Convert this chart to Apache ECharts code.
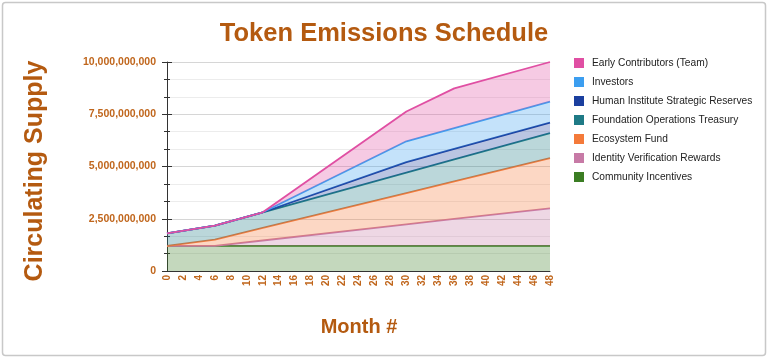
<!DOCTYPE html>
<html>
<head>
<meta charset="utf-8">
<script src="https://cdn.jsdelivr.net/npm/echarts@6/dist/echarts.min.js"></script>
<style>
html,body{margin:0;padding:0;background:#fff;}
#chart{width:768px;height:359px;}
</style>
</head>
<body>
<div id="chart"></div>
<script>
// Data (tokens), read at the schedule's vertices
var months = [0, 6, 12, 30, 36, 48];
var communityIncentives   = [1200000000, 1200000000, 1200000000, 1200000000, 1200000000, 1200000000];
var identityVerification  = [0, 0, 260000000, 1030000000, 1290000000, 1800000000];
var ecosystemFund         = [0, 300000000, 600000000, 1500000000, 1800000000, 2400000000];
var foundationTreasury    = [600000000, 675000000, 750000000, 975000000, 1050000000, 1200000000];
var humanInstitute        = [0, 0, 0, 500000000, 500000000, 500000000];
var investors             = [0, 0, 0, 1000000000, 1000000000, 1000000000];
var earlyContributors     = [0, 0, 0, 1425000000, 1900000000, 1900000000];

var seriesNames = [
  'Community Incentives',
  'Identity Verification Rewards',
  'Ecosystem Fund',
  'Foundation Operations Treasury',
  'Human Institute Strategic Reserves',
  'Investors',
  'Early Contributors (Team)'
];
var seriesValues = [communityIncentives, identityVerification, ecosystemFund, foundationTreasury, humanInstitute, investors, earlyContributors];
var seriesColors = ['#3b7d23', '#c77aa6', '#f47a3a', '#1f7a86', '#1b3f9f', '#3c9ef0', '#e04fa3'];
var legendOrder = seriesNames.slice().reverse();

var FONT = 'Liberation Sans, Arial, sans-serif';
var BROWN = '#b45a10';
var LABEL = '#c0661c';

// [value, month] so that the stacked dimension is the value (y) dimension
function pairs(vals) {
  return months.map(function (m, i) { return [vals[i], m]; });
}

var series = seriesNames.map(function (name, i) {
  return {
    name: name,
    type: 'line',
    stack: 'total',
    data: pairs(seriesValues[i]),
    encode: { x: 1, y: 0 },
    symbol: 'none',
    color: seriesColors[i],
    lineStyle: { width: 1.8, color: seriesColors[i] },
    areaStyle: { color: seriesColors[i], opacity: 0.3 },
    z: 2 + i
  };
});

var chart = echarts.init(document.getElementById('chart'), null, { renderer: 'canvas' });
chart.setOption({
  animation: false,
  backgroundColor: '#fff',
  title: {
    text: 'Token Emissions Schedule',
    left: 'center',
    top: 16,
    textStyle: { fontFamily: FONT, fontSize: 25.5, fontWeight: 'bold', color: BROWN }
  },
  grid: { left: 167, right: 218, top: 62, bottom: 88, containLabel: false },
  legend: {
    orient: 'vertical',
    left: 569,
    top: 53,
    data: legendOrder,
    icon: 'rect',
    itemWidth: 10,
    itemHeight: 10,
    itemGap: 9,
    textStyle: { fontFamily: FONT, fontSize: 10.2, color: '#222', padding: [0, 0, 0, 3], lineHeight: 10 }
  },
  xAxis: {
    type: 'value',
    min: 0,
    max: 48,
    interval: 2,
    axisLine: { show: true, lineStyle: { color: '#333', width: 1 } },
    axisTick: { show: false },
    splitLine: { show: false },
    axisLabel: {
      rotate: 90,
      margin: 4,
      fontFamily: FONT,
      fontSize: 10,
      fontWeight: 'bold',
      color: LABEL,
      showMinLabel: true,
      showMaxLabel: true
    }
  },
  yAxis: [{
    type: 'value',
    position: 'left',
    min: 0,
    max: 10000000000,
    interval: 2500000000,
    axisLine: { show: true, lineStyle: { color: '#333', width: 1 } },
    axisTick: { show: true, length: 5, inside: false, lineStyle: { color: '#333' } },
    minorTick: { show: true, splitNumber: 3, length: 3, lineStyle: { color: '#333' } },
    splitLine: { show: true, lineStyle: { color: '#d6d6d6', width: 1 } },
    minorSplitLine: { show: true, lineStyle: { color: '#ececec', width: 1 } },
    axisLabel: {
      margin: 11,
      fontFamily: FONT,
      fontSize: 10.5,
      fontWeight: 'bold',
      color: LABEL,
      formatter: function (v) { return Number(v).toLocaleString('en-US'); }
    }
  }, {
    type: 'value',
    position: 'right',
    offset: -383,
    min: 0,
    max: 10000000000,
    interval: 2500000000,
    axisLine: { show: false },
    axisTick: { show: true, length: 5, inside: false, lineStyle: { color: '#333' } },
    minorTick: { show: true, splitNumber: 3, length: 3, lineStyle: { color: '#333' } },
    splitLine: { show: false },
    minorSplitLine: { show: false },
    axisLabel: { show: false }
  }],
  graphic: [
    {
      type: 'rect',
      shape: { x: 2.5, y: 2.5, width: 763, height: 353, r: 3 },
      style: { fill: 'none', stroke: '#c8c8c8', lineWidth: 1.5 },
      silent: true,
      z: 100
    },
    {
      type: 'text',
      x: 35,
      y: 171,
      rotation: Math.PI / 2,
      style: {
        text: 'Circulating Supply',
        fontFamily: FONT,
        fontSize: 25,
        fontWeight: 'bold',
        fill: BROWN,
        textAlign: 'center',
        textVerticalAlign: 'middle'
      },
      z: 100
    },
    {
      type: 'text',
      x: 359,
      y: 327,
      style: {
        text: 'Month #',
        fontFamily: FONT,
        fontSize: 20,
        fontWeight: 'bold',
        fill: BROWN,
        textAlign: 'center',
        textVerticalAlign: 'middle'
      },
      z: 100
    }
  ],
  series: series
});
</script>
</body>
</html>
